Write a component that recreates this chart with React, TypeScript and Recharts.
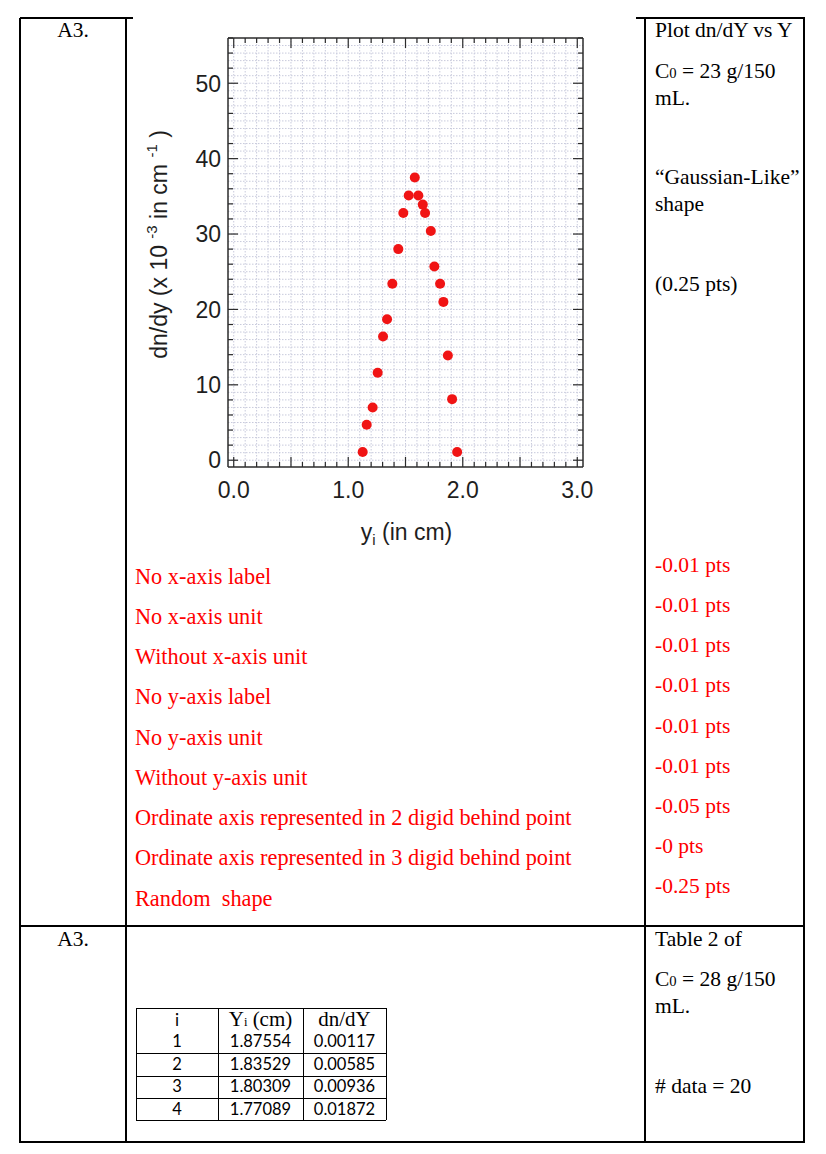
import React from "react";
import { ScatterChart, Scatter, XAxis, YAxis, CartesianGrid, Label } from "recharts";

// dn/dy (x 10^-3 cm^-1) against y_i (cm)
const yiCm = [1.126, 1.161, 1.213, 1.257, 1.304, 1.339, 1.385, 1.437, 1.481, 1.528, 1.581, 1.612, 1.651, 1.671, 1.721, 1.752, 1.802, 1.831, 1.87, 1.907, 1.951];
const dnDy = [1.1, 4.7, 7.0, 11.6, 16.4, 18.7, 23.4, 28.0, 32.8, 35.1, 37.5, 35.1, 33.9, 32.8, 30.4, 25.7, 23.4, 21.0, 13.9, 8.1, 1.1];

const xTickLabels = [0, 1, 2, 3];
const yTickLabels = [0, 10, 20, 30, 40, 50];

const penalties = [
  "No x-axis label",
  "No x-axis unit",
  "Without x-axis unit",
  "No y-axis label",
  "No y-axis unit",
  "Without y-axis unit",
  "Ordinate axis represented in 2 digid behind point",
  "Ordinate axis represented in 3 digid behind point",
  "Random  shape",
];
const penaltyPts = ["-0.01 pts", "-0.01 pts", "-0.01 pts", "-0.01 pts", "-0.01 pts", "-0.01 pts", "-0.05 pts", "-0 pts", "-0.25 pts"];

const tableI = ["1", "2", "3", "4"];
const tableYi = ["1.87554", "1.83529", "1.80309", "1.77089"];
const tableDnDy = ["0.00117", "0.00585", "0.00936", "0.01872"];

const points = yiCm.map((x, i) => ({ x, y: dnDy[i] }));

const steps = (n: number, step: number) => Array.from({ length: n + 1 }, (_, i) => +(i * step).toFixed(3));
const xTicks = steps(30, 0.1);
const yTicks = steps(28, 2);
const xGrid = steps(30, 0.1);
const yGrid = steps(55, 1);

const X_DOMAIN: [number, number] = [-0.05, 3.05];
const Y_DOMAIN: [number, number] = [-0.9, 56];

const serif = '"Liberation Serif", "Times New Roman", serif';
const sans = '"Liberation Sans", Arial, sans-serif';
const frame = "#2b2b2b";
const ink = "#1e1e1e";

const isMult = (v: number, m: number) => Math.abs(v / m - Math.round(v / m)) < 1e-6;

// tick drawn inward from the frame, long on major values, with a label on labelled values
function makeTick(side: "bottom" | "top" | "left" | "right") {
  return (p: any) => {
    const v = p.payload.value as number;
    const major = side === "bottom" || side === "top" ? isMult(v, 0.5) : isMult(v, 10);
    const len = major ? 10 : 5;
    const { x, y } = p;
    let line = null;
    if (side === "bottom") line = <line x1={x} x2={x} y1={y} y2={y - len} stroke={frame} strokeWidth={1.2} />;
    if (side === "top") line = <line x1={x} x2={x} y1={y} y2={y + len} stroke={frame} strokeWidth={1.2} />;
    if (side === "left") line = <line x1={x} x2={x + len} y1={y} y2={y} stroke={frame} strokeWidth={1.2} />;
    if (side === "right") line = <line x1={x} x2={x - len} y1={y} y2={y} stroke={frame} strokeWidth={1.2} />;
    let label = null;
    if (side === "bottom" && xTickLabels.includes(v))
      label = <text x={x} y={y + 30.5} textAnchor="middle" fontFamily={sans} fontSize={23} fill={ink}>{v.toFixed(1)}</text>;
    if (side === "left" && yTickLabels.includes(v))
      label = <text x={x - 7} y={y} dy="0.36em" textAnchor="end" fontFamily={sans} fontSize={23} fill={ink}>{v}</text>;
    return <g>{line}{label}</g>;
  };
}

function Plot() {
  const common = { type: "number" as const, allowDataOverflow: true, interval: 0 as const, tickSize: 0, tickMargin: 0, tickLine: false };
  const border = { stroke: frame, strokeWidth: 1.5 };
  return (
    <ScatterChart width={480} height={540} margin={{ top: 17, right: 16, bottom: 63, left: 48 }}>
      <CartesianGrid xAxisId="x" yAxisId="y" verticalValues={xGrid} horizontalValues={yGrid} stroke="#c8cadc" strokeDasharray="1.5 1.5" />
      <XAxis xAxisId="x" dataKey="x" {...common} domain={X_DOMAIN} ticks={xTicks} height={30} axisLine={border} tick={makeTick("bottom")}>
        <Label content={(p: any) => {
          const vb = p.viewBox || { x: 108, y: 447, width: 355 };
          return (
            <text x={vb.x + vb.width / 2 + 1} y={vb.y + 73} textAnchor="middle" fontFamily={sans} fontSize={23} fill={ink}>
              y<tspan fontSize={15} dy={5}>i</tspan><tspan dy={-5}> (in cm)</tspan>
            </text>
          );
        }} />
      </XAxis>
      <XAxis xAxisId="xTop" orientation="top" dataKey="x" {...common} domain={X_DOMAIN} ticks={xTicks} height={1} axisLine={border} tick={makeTick("top")} />
      <YAxis yAxisId="y" dataKey="y" {...common} domain={Y_DOMAIN} ticks={yTicks} width={60} axisLine={border} tick={makeTick("left")}>
        <Label content={(p: any) => {
          const vb = p.viewBox || { x: 48, y: 18, width: 60, height: 429 };
          const cx = vb.x + vb.width - 61;
          const cy = vb.y + vb.height / 2 - 8;
          return (
            <text x={0} y={0} transform={`translate(${cx},${cy}) rotate(-90)`} textAnchor="middle" fontFamily={sans} fontSize={23} fill={ink}>
              dn/dy (x 10 <tspan fontSize={15} dy={-10}>-3</tspan><tspan dy={10}> in cm </tspan><tspan fontSize={15} dy={-10}>-1</tspan><tspan dy={10}>  )</tspan>
            </text>
          );
        }} />
      </YAxis>
      <YAxis yAxisId="yR" orientation="right" dataKey="y" {...common} domain={Y_DOMAIN} ticks={yTicks} width={1} axisLine={border} tick={makeTick("right")} />
      <Scatter data={points} dataKey="y" xAxisId="x" yAxisId="y" fill="#f01414" isAnimationActive={false}
        shape={(p: any) => <circle cx={p.cx} cy={p.cy} r={5} fill="#f01414" />} />
    </ScatterChart>
  );
}

function Line({ x1, y1, x2, y2, w = 1.5 }: { x1: number; y1: number; x2: number; y2: number; w?: number }) {
  const horiz = y1 === y2;
  return <div style={{ position: "absolute", background: "#000", left: horiz ? x1 : x1 - w / 2, top: horiz ? y1 - w / 2 : y1, width: horiz ? x2 - x1 : w, height: horiz ? w : y2 - y1 }} />;
}

function T({ x, cy, size = 21.5, color = "#000", width, align = "left", font = serif, children }: any) {
  return <div style={{ position: "absolute", left: x, top: cy - size * 0.6, width, textAlign: align, fontFamily: font, fontSize: size, lineHeight: `${size * 1.2}px`, color, whiteSpace: "pre" }}>{children}</div>;
}

const C0 = ({ v }: { v: string }) => <>C<span style={{ fontSize: "0.68em" }}>0</span> = {v} g/150</>;

export default function App() {
  const red = "#ff0000";
  return (
    <div style={{ position: "absolute", left: 0, top: 0, width: 826, height: 1154, background: "#fff" }}>
      {/* page table frame */}
      <Line x1={20} y1={18} x2={133} y2={18} />
      <Line x1={636} y1={18} x2={805} y2={18} />
      <Line x1={20} y1={18} x2={20} y2={1143} />
      <Line x1={126} y1={18} x2={126} y2={1143} />
      <Line x1={645} y1={18} x2={645} y2={1143} />
      <Line x1={804} y1={18} x2={804} y2={1143} />
      <Line x1={20} y1={926} x2={805} y2={926} />
      <Line x1={20} y1={1142} x2={805} y2={1142} />

      <T x={20} width={106} align="center" cy={31}>A3.</T>
      <T x={20} width={106} align="center" cy={940}>A3.</T>

      <T x={655} cy={31}>Plot dn/dY vs Y</T>
      <T x={655} cy={72}><C0 v="23" /></T>
      <T x={655} cy={99}>mL.</T>
      <T x={655} cy={178}>“Gaussian-Like”</T>
      <T x={655} cy={205}>shape</T>
      <T x={655} cy={285}>(0.25 pts)</T>

      <T x={655} cy={940}>Table 2 of</T>
      <T x={655} cy={980}><C0 v="28" /></T>
      <T x={655} cy={1007}>mL.</T>
      <T x={655} cy={1087}># data = 20</T>

      {penalties.map((s, i) => <T key={s + i} x={135} cy={577 + i * 40.25} size={22.3} color={red}>{s}</T>)}
      {penaltyPts.map((s, i) => <T key={i} x={655} cy={566 + i * 40.1} color={red}>{s}</T>)}

      <div style={{ position: "absolute", left: 120, top: 20 }}><Plot /></div>

      {/* small data table */}
      {[1008, 1053, 1076, 1098, 1120].map((y) => <Line key={y} x1={136} y1={y} x2={386} y2={y} w={1} />)}
      {[136, 218, 303, 386].map((x) => <Line key={x} x1={x} y1={1008} x2={x} y2={1120} w={1} />)}
      <T x={136} width={82} align="center" cy={1020} size={17} font="Lato, sans-serif">i</T>
      <T x={218} width={85} align="center" cy={1020} size={21}>Y<span style={{ fontSize: "0.6em" }}>i</span> (cm)</T>
      <T x={303} width={83} align="center" cy={1020} size={21}>dn/dY</T>
      {tableI.map((v, i) => (
        <React.Fragment key={v}>
          <T x={136} width={82} align="center" cy={1042 + i * 22.5} size={16.5} font="Lato, sans-serif">{v}</T>
          <T x={218} width={85} align="center" cy={1042 + i * 22.5} size={16.5} font="Lato, sans-serif">{tableYi[i]}</T>
          <T x={303} width={83} align="center" cy={1042 + i * 22.5} size={16.5} font="Lato, sans-serif">{tableDnDy[i]}</T>
        </React.Fragment>
      ))}
    </div>
  );
}
